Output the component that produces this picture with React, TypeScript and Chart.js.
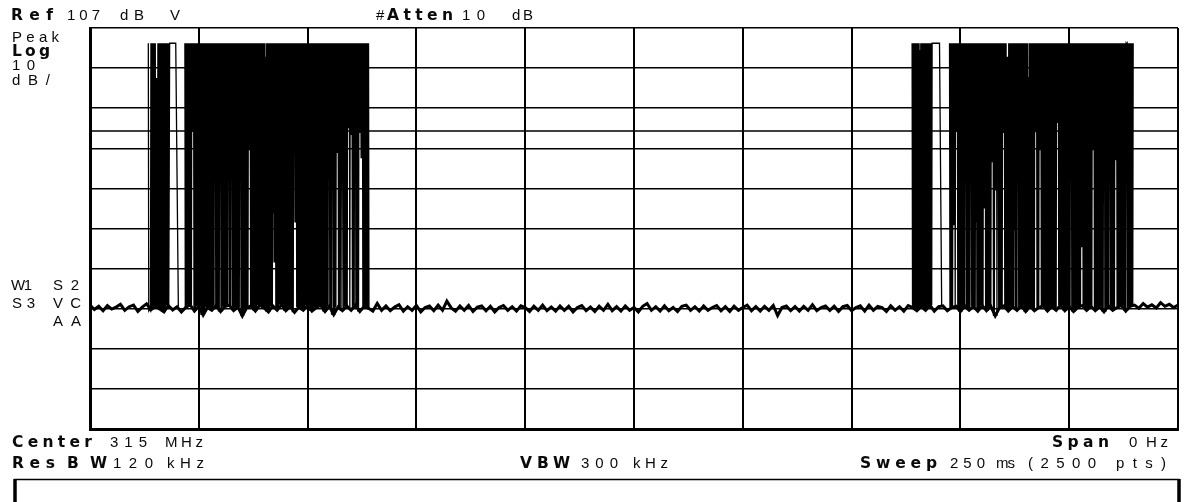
import React, { useEffect, useRef } from "react";
import { Chart, registerables } from "chart.js";

Chart.register(...registerables);

// ---------------- data ----------------
const sweepPoints = 2500; // 250 ms sweep, 2500 pts, span 0 Hz
const refLevelDb = 107; // Ref 107 dBµV
const dbPerDiv = 10; // Log 10 dB/
const gridDivisions = 10;
const displayLineDb = 81.3;

// noise floor, one reading every 10 sweep points (0..2500)
const noiseStepPts = 10;
const noiseFloorDb: number[] = [
  37.9, 36.8, 37.6, 36.5, 37.8, 36.9, 37.4, 38.1, 36.6, 37.5,
  37.9, 36.3, 37.4, 38.2, 36.7, 37.6, 36.9, 36.2, 37.8, 36.7,
  37.5, 36.2, 37.3, 38.0, 36.4, 37.6, 35.4, 37.3, 36.6, 37.8,
  36.3, 37.5, 37.9, 36.5, 37.4, 35.2, 37.2, 37.7, 36.4, 37.9,
  37.2, 36.2, 37.7, 36.6, 38.0, 36.5, 37.5, 36.1, 37.4, 36.6,
  37.8, 36.4, 37.3, 37.8, 36.3, 37.6, 35.5, 37.4, 36.5, 37.7,
  36.6, 37.9, 36.3, 37.6, 37.1, 36.4, 38.3, 36.6, 37.7, 36.5,
  37.4, 38.0, 36.4, 37.5, 36.6, 37.8, 36.2, 37.3, 37.7, 36.5,
  37.9, 36.6, 38.9, 37.2, 36.4, 37.7, 36.6, 37.8, 36.3, 37.4,
  37.7, 36.5, 37.6, 36.2, 37.3, 37.8, 36.6, 37.5, 36.4, 37.7,
  37.3, 36.3, 37.6, 36.6, 37.9, 36.5, 37.4, 36.4, 37.7, 36.6,
  37.6, 36.2, 37.3, 37.8, 36.5, 37.4, 36.3, 37.6, 36.6, 38.1,
  36.5, 37.5, 36.4, 37.7, 36.6, 37.3, 36.2, 37.6, 38.3, 36.6,
  37.5, 36.4, 37.7, 36.5, 37.3, 36.3, 37.6, 37.9, 36.6, 37.5,
  36.4, 37.7, 36.6, 37.3, 37.8, 36.5, 37.5, 36.3, 37.6, 36.6,
  37.3, 37.9, 36.5, 37.5, 36.4, 37.6, 36.6, 37.8, 35.3, 37.3,
  37.7, 36.5, 37.5, 36.4, 37.6, 36.6, 38.0, 36.5, 37.3, 37.7,
  36.6, 37.6, 36.3, 37.5, 37.8, 36.5, 37.3, 37.7, 36.4, 37.9,
  36.6, 37.6, 37.3, 36.3, 37.7, 36.6, 37.5, 36.4, 37.8, 37.3,
  36.5, 37.6, 36.6, 37.9, 36.4, 37.5, 37.7, 36.5, 37.3, 37.6,
  36.3, 37.7, 36.6, 37.5, 36.4, 37.8, 36.5, 37.6, 35.2, 37.3,
  37.7, 36.4, 37.5, 36.6, 37.8, 36.3, 37.6, 36.5, 37.3, 37.7,
  36.4, 37.5, 36.6, 37.9, 36.5, 37.6, 36.3, 37.3, 37.8, 36.6,
  37.6, 36.5, 37.5, 36.2, 37.7, 36.6, 37.3, 37.8, 36.4, 37.6,
  37.9, 37.1, 38.3, 37.4, 38.0, 37.2, 38.5, 37.6, 38.1, 37.3,
  37.9,
];

// OOK bursts: level of the keyed carrier and the keyed stretches [first pt, last pt]
const burstTopDb = 103.2;
const burstBlocks: [number, number][] = [
  [134, 181],
  [218, 641],
  [1889, 1935],
  [1975, 2397],
];
// long single pulse after the preamble: [rise pt, fall pt, back-on-floor pt]
const burstPlateaus: [number, number, number][] = [
  [183, 197, 203],
  [1937, 1952, 1957],
];
// white slivers from the floor up: [centre pt, lowest level reached dB, width pts]
const slivers: [number, number, number][] = [
  [236, 81.1, 3], [287, 83.3, 3], [299, 82.0, 3], [319, 74.0, 3], [325, 88.3, 2],
  [345, 80.8, 3], [366, 76.5, 3], [421, 60.8, 2], [425, 48.5, 4], [469, 89.8, 2],
  [473, 58.5, 4], [549, 71.5, 3], [557, 82.8, 3], [568, 75.8, 3], [577, 83.5, 3],
  [582, 88.3, 2], [594, 82.0, 3], [600, 80.3, 3], [609, 81.0, 3], [620, 80.8, 3],
  [625, 74.5, 4],
  [1985, 57.8, 3], [1991, 81.1, 3], [2012, 85.8, 3], [2024, 76.5, 3], [2036, 58.5, 3],
  [2055, 62.0, 3], [2073, 73.5, 3], [2081, 66.5, 4], [2086, 100.8, 2], [2099, 80.8, 3],
  [2124, 56.5, 3], [2132, 75.8, 3], [2173, 81.0, 3], [2183, 76.5, 3], [2223, 83.3, 3],
  [2254, 73.3, 3], [2279, 52.3, 3], [2305, 76.5, 3], [2330, 73.5, 3], [2342, 73.5, 3],
  [2357, 74.0, 3], [2382, 103.0, 3],
];
// notches from the top down: [centre pt, highest level reached dB, width pts]
const notches: [number, number, number][] = [
  [138, 37.0, 4], [153, 94.5, 3], [404, 99.8, 3],
  [1907, 101.5, 3], [2108, 99.8, 3], [2157, 94.8, 3],
];

// ---------------- helpers ----------------
const floorAt = (p: number) =>
  noiseFloorDb[Math.min(noiseFloorDb.length - 1, Math.max(0, Math.round(p / noiseStepPts)))];

const inRange = (p: number, c: number, w: number) => p >= c - w / 2 && p < c + w / 2;

function buildBurstTrace() {
  const out: { x: number; y: number | null }[] = [];
  burstBlocks.forEach(([a, b]) => {
    for (let p = a; p <= b; p++) {
      const high = (p - a) % 2 === 0;
      let y = high ? burstTopDb : floorAt(p);
      if (high) {
        for (const [c, lvl, w] of notches) if (inRange(p, c, w)) y = lvl;
      } else {
        for (const [c, lvl, w] of slivers) if (inRange(p, c, w)) y = lvl;
      }
      out.push({ x: p, y });
    }
    let end = b;
    const plateau = burstPlateaus.find(([s]) => s > b && s - b < 6);
    if (plateau) {
      out.push({ x: plateau[0], y: burstTopDb });
      out.push({ x: plateau[1], y: burstTopDb });
      out.push({ x: plateau[2], y: floorAt(plateau[2]) });
      end = plateau[2];
    }
    out.push({ x: end + 0.5, y: null });
  });
  return out;
}

const yTickValues = Array.from({ length: gridDivisions + 1 }, (_, k) => refLevelDb - k * dbPerDiv);
const xTickValues = Array.from({ length: gridDivisions + 1 }, (_, k) => (k * sweepPoints) / gridDivisions);

const BOLD = "'DejaVu Sans', 'Liberation Sans', sans-serif";
const LIGHT = "'Liberation Sans', Arial, sans-serif";

function Label(props: { x: number; y: number; w?: number; bold?: boolean; children: string }) {
  const { x, y, w, bold, children } = props;
  const extra: any = w ? { textLength: w, lengthAdjust: "spacing" } : {};
  return (
    <text
      x={x}
      y={y}
      {...extra}
      fontFamily={bold ? BOLD : LIGHT}
      fontWeight={bold ? 700 : 400}
      fontSize={bold ? 15.5 : 15}
      fill="#0a0a0a"
    >
      {children}
    </text>
  );
}

export default function App() {
  const canvasRef = useRef<HTMLCanvasElement | null>(null);

  useEffect(() => {
    if (!canvasRef.current) return;
    const chart = new Chart(canvasRef.current, {
      type: "line",
      data: {
        datasets: [
          {
            label: "burst",
            data: buildBurstTrace() as any,
            borderColor: "#000",
            borderWidth: 1.3,
            borderDash: [100000, 0],
            pointRadius: 0,
            spanGaps: false,
          },
          {
            label: "trace",
            data: noiseFloorDb.map((v, i) => ({ x: i * noiseStepPts, y: v })) as any,
            borderColor: "#000",
            borderWidth: 3,
            pointRadius: 0,
          },
          {
            label: "display line",
            data: [
              { x: 0, y: displayLineDb },
              { x: sweepPoints, y: displayLineDb },
            ] as any,
            borderColor: "#000",
            borderWidth: 1.5,
            pointRadius: 0,
          },
        ],
      },
      options: {
        animation: false,
        responsive: false,
        devicePixelRatio: 1,
        events: [],
        layout: { padding: { left: 90, right: 7, top: 28, bottom: 73 }, autoPadding: false },
        plugins: { legend: { display: false }, tooltip: { enabled: false }, title: { display: false } },
        elements: { line: { tension: 0 } },
        scales: {
          x: {
            type: "linear",
            min: 0,
            max: sweepPoints,
            afterBuildTicks: (axis: any) => {
              axis.ticks = xTickValues.map((value) => ({ value }));
            },
            ticks: { display: false },
            grid: { color: "#000", lineWidth: 2, drawTicks: false },
            border: { display: true, color: "#000", width: 3 },
          },
          y: {
            type: "linear",
            min: refLevelDb - dbPerDiv * gridDivisions,
            max: refLevelDb,
            afterBuildTicks: (axis: any) => {
              axis.ticks = yTickValues.map((value) => ({ value }));
            },
            ticks: { display: false },
            grid: { color: "#000", lineWidth: 1.6, drawTicks: false },
            border: { display: true, color: "#000", width: 3 },
          },
        },
      } as any,
    });
    return () => chart.destroy();
  }, []);

  return (
    <div style={{ position: "fixed", left: 0, top: 0, width: 1185, height: 502, background: "#fff", overflow: "hidden" }}>
      <canvas ref={canvasRef} width={1185} height={502} style={{ position: "absolute", left: 0, top: 0, width: 1185, height: 502 }} />
      <svg width={1185} height={502} style={{ position: "absolute", left: 0, top: 0, pointerEvents: "none" }}>
        <Label x={11} y={20} w={42} bold>Ref</Label>
        <Label x={67} y={20} w={33}>107</Label>
        <Label x={120} y={20} w={24}>dB</Label>
        <Label x={170} y={20}>V</Label>
        <Label x={376} y={20}>#</Label>
        <Label x={387} y={20} w={66} bold>Atten</Label>
        <Label x={462} y={20} w={23}>10</Label>
        <Label x={512} y={20} w={21}>dB</Label>

        <Label x={12} y={42} w={47}>Peak</Label>
        <Label x={12} y={56} w={38} bold>Log</Label>
        <Label x={12} y={70} w={23}>10</Label>
        <Label x={12} y={85} w={38}>dB/</Label>

        <Label x={11} y={290} w={21}>W1</Label>
        <Label x={53} y={290} w={26}>S2</Label>
        <Label x={12} y={308} w={23}>S3</Label>
        <Label x={53} y={308} w={28}>VC</Label>
        <Label x={53} y={326} w={28}>AA</Label>

        <Label x={12} y={447} w={80} bold>Center</Label>
        <Label x={110} y={447} w={37}>315</Label>
        <Label x={165} y={447} w={38}>MHz</Label>
        <Label x={1052} y={447} w={57} bold>Span</Label>
        <Label x={1129} y={447}>0</Label>
        <Label x={1146} y={447} w={22}>Hz</Label>

        <Label x={12} y={468} w={43} bold>Res</Label>
        <Label x={67} y={468} w={40} bold>BW</Label>
        <Label x={113} y={468} w={40}>120</Label>
        <Label x={167} y={468} w={37}>kHz</Label>
        <Label x={520} y={468} w={50} bold>VBW</Label>
        <Label x={581} y={468} w={37}>300</Label>
        <Label x={633} y={468} w={35}>kHz</Label>
        <Label x={860} y={468} w={77} bold>Sweep</Label>
        <Label x={950} y={468} w={35}>250</Label>
        <Label x={996} y={468} w={19}>ms</Label>
        <Label x={1028} y={468} w={68}>(2500</Label>
        <Label x={1116} y={468} w={50}>pts)</Label>

        <path d="M15 502 L15 479.5 L1179 479.5 L1179 502" fill="none" stroke="#000" strokeWidth={1.5} />
        <line x1={15} y1={479} x2={15} y2={502} stroke="#000" strokeWidth={3.5} />
        <line x1={1179} y1={479} x2={1179} y2={502} stroke="#000" strokeWidth={3.5} />
      </svg>
    </div>
  );
}
